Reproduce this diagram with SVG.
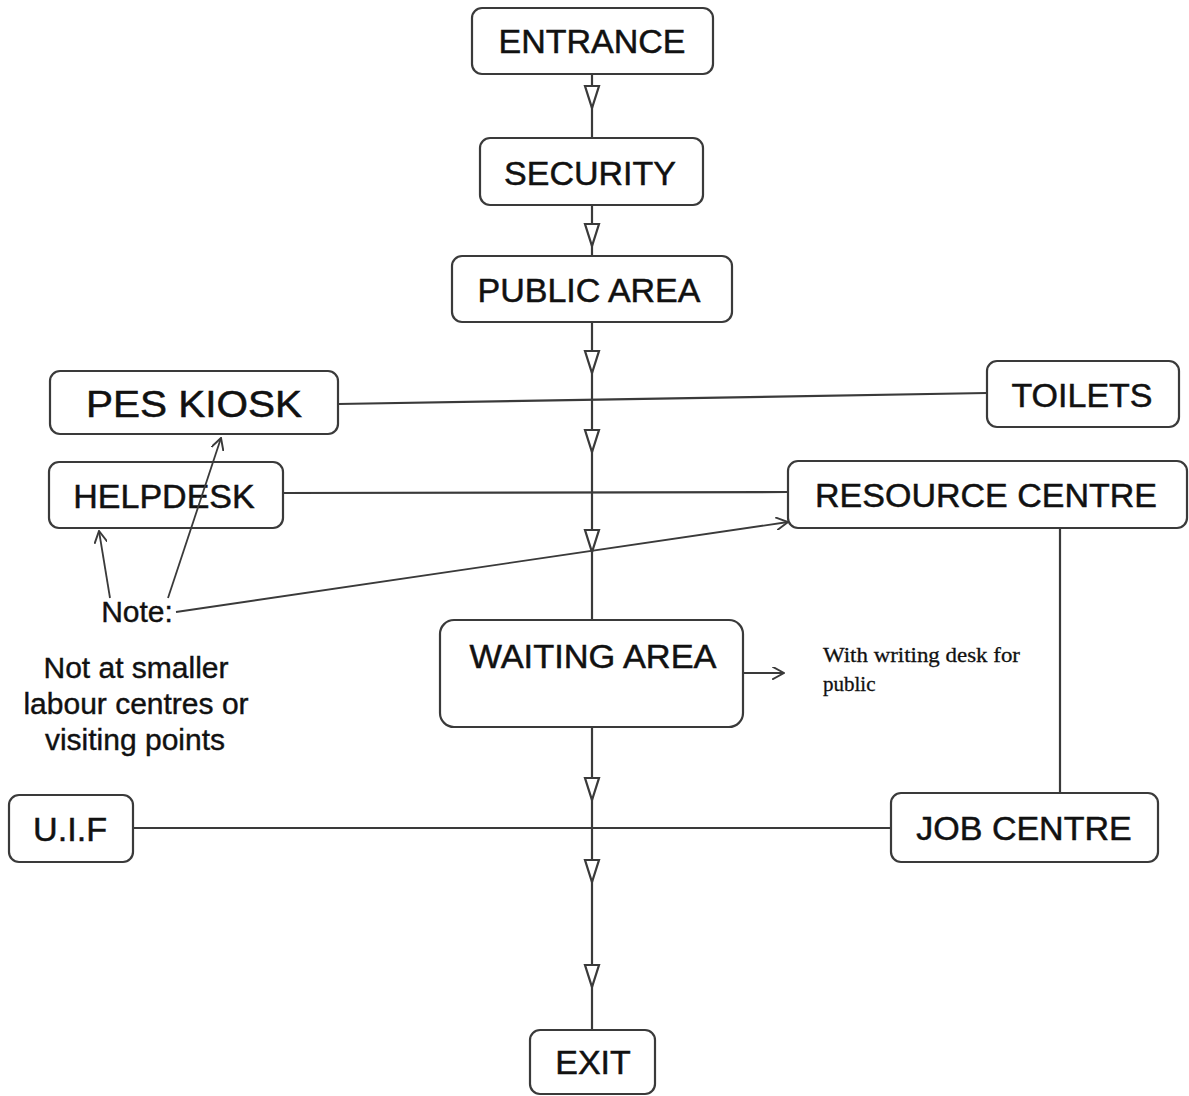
<svg xmlns="http://www.w3.org/2000/svg" width="1189" height="1096" viewBox="0 0 1189 1096">
<style>
.box{fill:#fff;stroke:#3a3a3a;stroke-width:2.2}
.lbl{font-family:"Liberation Sans",Arial,sans-serif;font-size:34px;fill:#111;stroke:#111;stroke-width:0.5;text-anchor:middle}
.ln{fill:none;stroke:#3a3a3a;stroke-width:2.2}
.thin{fill:none;stroke:#3a3a3a;stroke-width:1.8}
.tri{fill:#fff;stroke:#3a3a3a;stroke-width:2.2}
.note{font-family:"Liberation Sans",Arial,sans-serif;font-size:30px;fill:#111;stroke:#111;stroke-width:0.4;text-anchor:middle}
.ser{font-family:"Liberation Serif","Times New Roman",serif;font-size:21px;fill:#111;stroke:#111;stroke-width:0.3}
</style>
<defs>
<path id="tri" d="M-7,-22 L7,-22 L0,0 Z"/>
<marker id="open" viewBox="0 0 12 12" refX="11" refY="6" markerWidth="13" markerHeight="13" markerUnits="userSpaceOnUse" orient="auto">
<path d="M0,0 L11,6 L0,12" fill="none" stroke="#3a3a3a" stroke-width="1.8"/>
</marker>
</defs>
<rect width="1189" height="1096" fill="#fff"/>
<g id="entrance"><rect class="box" x="472" y="8" width="241" height="66" rx="10"/><text class="lbl" x="592" y="53">ENTRANCE</text></g>
<g id="security"><rect class="box" x="480" y="138" width="223" height="67" rx="10"/><text class="lbl" x="590" y="185">SECURITY</text></g>
<g id="public-area"><rect class="box" x="452" y="256" width="280" height="66" rx="10"/><text class="lbl" x="589" y="302">PUBLIC AREA</text></g>
<g id="pes-kiosk"><rect class="box" x="50" y="371" width="288" height="63" rx="10"/><text class="lbl" x="194" y="417" style="font-size:36px" textLength="216" lengthAdjust="spacingAndGlyphs">PES KIOSK</text></g>
<g id="toilets"><rect class="box" x="987" y="361" width="192" height="66" rx="10"/><text class="lbl" x="1082" y="407">TOILETS</text></g>
<g id="helpdesk"><rect class="box" x="49" y="462" width="234" height="66" rx="10"/><text class="lbl" x="164" y="508">HELPDESK</text></g>
<g id="resource-centre"><rect class="box" x="788" y="461" width="399" height="67" rx="10"/><text class="lbl" x="986" y="507">RESOURCE CENTRE</text></g>
<g id="waiting-area"><rect class="box" x="440" y="620" width="303" height="107" rx="14"/><text class="lbl" x="593" y="668" textLength="247" lengthAdjust="spacingAndGlyphs">WAITING AREA</text></g>
<g id="writing-desk-note"><text class="ser" x="823" y="662" textLength="197" lengthAdjust="spacingAndGlyphs">With writing  desk for</text><text class="ser" x="823" y="691">public</text></g>
<g id="note"><text class="note" x="137" y="622">Note:</text><text class="note" x="136" y="678">Not at smaller</text><text class="note" x="136" y="714">labour centres or</text><text class="note" x="135" y="750">visiting points</text></g>
<g id="uif"><rect class="box" x="9" y="795" width="124" height="67" rx="10"/><text class="lbl" x="70" y="841" textLength="74" lengthAdjust="spacingAndGlyphs">U.I.F</text></g>
<g id="job-centre"><rect class="box" x="891" y="793" width="267" height="69" rx="10"/><text class="lbl" x="1024" y="840">JOB CENTRE</text></g>
<g id="exit"><rect class="box" x="530" y="1030" width="125" height="64" rx="10"/><text class="lbl" x="593" y="1074">EXIT</text></g>
<g id="connectors">
<line class="ln" x1="592" y1="75" x2="592" y2="137"/>
<line class="ln" x1="592" y1="205" x2="592" y2="255"/>
<line class="ln" x1="592" y1="323" x2="592" y2="620"/>
<line class="ln" x1="592" y1="728" x2="592" y2="1030"/>
<line class="ln" x1="338" y1="404" x2="987" y2="393"/>
<line class="ln" x1="283" y1="493" x2="788" y2="492"/>
<line class="ln" x1="1060" y1="528" x2="1060" y2="793"/>
<line class="ln" x1="133" y1="828" x2="891" y2="828"/>
<line class="thin" x1="743" y1="673" x2="784" y2="673" marker-end="url(#open)"/>
<line class="thin" x1="110" y1="598" x2="99" y2="531" marker-end="url(#open)"/>
<line class="thin" x1="168" y1="598" x2="221" y2="438" marker-end="url(#open)"/>
<line class="thin" x1="176" y1="612" x2="788" y2="522" marker-end="url(#open)"/>
<use href="#tri" class="tri" x="592" y="108"/>
<use href="#tri" class="tri" x="592" y="246"/>
<use href="#tri" class="tri" x="592" y="373"/>
<use href="#tri" class="tri" x="592" y="452"/>
<use href="#tri" class="tri" x="592" y="552"/>
<use href="#tri" class="tri" x="592" y="800"/>
<use href="#tri" class="tri" x="592" y="882"/>
<use href="#tri" class="tri" x="592" y="987"/>
</g>
</svg>
